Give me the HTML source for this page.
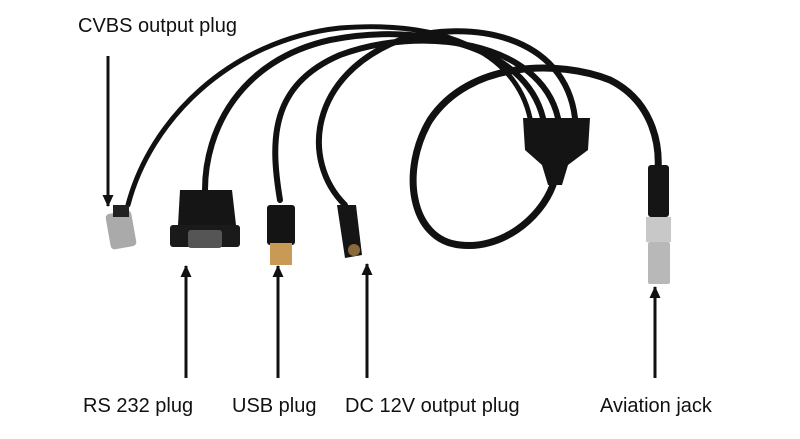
<!DOCTYPE html>
<html><head><style>
body{margin:0;background:#fff;}
.l{position:absolute;font-family:"Liberation Sans",sans-serif;font-size:20px;color:#111;white-space:nowrap;}
</style></head><body>
<div style="position:relative;width:800px;height:439px;overflow:hidden;background:#fff">
<svg width="800" height="439" style="position:absolute;left:0;top:0">
<defs><marker id="a" markerUnits="userSpaceOnUse" markerWidth="12" markerHeight="12" refX="11" refY="6" orient="auto"><path d="M0,0.5 L12,6 L0,11.5 z" fill="#111"/></marker></defs>
<g fill="none" stroke="#111" stroke-linecap="round">
<path d="M553,185 C540,220 500,250 460,245 C410,240 400,170 430,120 C470,60 560,60 610,80 C650,100 660,140 658,170" stroke-width="7"/>
<path d="M530,118 C515,50 440,20 340,28 C230,40 150,120 128,205" stroke-width="5"/>
<path d="M543,118 C525,45 420,22 330,40 C240,60 205,130 205,190" stroke-width="6"/>
<path d="M558,118 C540,40 420,25 340,55 C270,85 270,140 280,200" stroke-width="6"/>
<path d="M575,118 C565,35 470,18 400,40 C310,75 300,160 345,205" stroke-width="6"/>
</g>
<path d="M523,118 L590,118 L588,150 L568,165 L562,185 L548,185 L542,165 L525,150 Z" fill="#141414"/>
<rect x="108" y="212" width="26" height="36" rx="4" fill="#aaa" transform="rotate(-10 121 230)"/>
<rect x="113" y="205" width="16" height="12" fill="#222"/>
<path d="M180,190 L232,190 L236,225 L178,225 Z" fill="#151515"/>
<rect x="170" y="225" width="70" height="22" rx="3" fill="#1a1a1a"/>
<rect x="188" y="230" width="34" height="18" rx="3" fill="#555"/>
<rect x="267" y="205" width="28" height="40" rx="3" fill="#141414"/>
<rect x="270" y="243" width="22" height="22" fill="#c99a55"/>
<path d="M337,205 L356,205 L362,255 L345,258 Z" fill="#151515"/>
<circle cx="354" cy="250" r="6" fill="#8a6a3a"/>
<rect x="648" y="165" width="21" height="52" rx="3" fill="#151515"/>
<rect x="646" y="217" width="25" height="25" fill="#c8c8c8"/>
<rect x="648" y="242" width="22" height="42" rx="2" fill="#b8b8b8"/>
<g stroke="#111" stroke-width="3">
<line x1="108" y1="56" x2="108" y2="206" marker-end="url(#a)"/>
<line x1="186" y1="378" x2="186" y2="266" marker-end="url(#a)"/>
<line x1="278" y1="378" x2="278" y2="266" marker-end="url(#a)"/>
<line x1="367" y1="378" x2="367" y2="264" marker-end="url(#a)"/>
<line x1="655" y1="378" x2="655" y2="287" marker-end="url(#a)"/>
</g>
</svg>
<div class="l" style="left:78px;top:15px">CVBS output plug</div>
<div class="l" style="left:83px;top:395px">RS 232 plug</div>
<div class="l" style="left:232px;top:395px">USB plug</div>
<div class="l" style="left:345px;top:395px">DC 12V output plug</div>
<div class="l" style="left:600px;top:395px">Aviation jack</div>
</div>
</body></html>
